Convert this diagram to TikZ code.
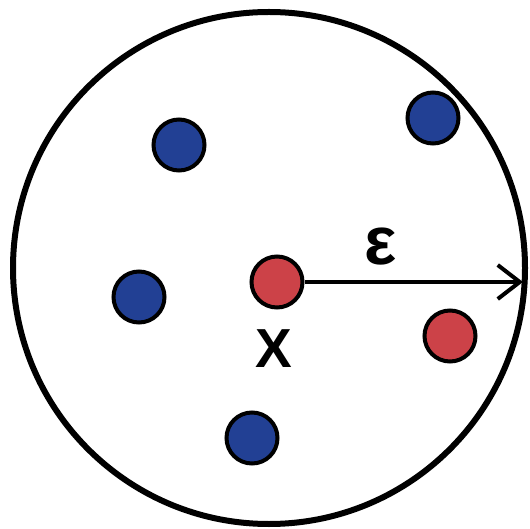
\documentclass[tikz,border=0pt]{standalone}
\usepackage{fontspec}
\setmainfont{Liberation Sans}
\usetikzlibrary{arrows.meta}
\definecolor{dotblue}{RGB}{34,64,148}
\definecolor{dotred}{RGB}{204,66,72}
\tikzset{
  dot/.style={circle, draw=black, line width=4pt, minimum size=51pt, inner sep=0pt},
  bluedot/.style={dot, fill=dotblue},
  reddot/.style={dot, fill=dotred},
  lbl/.style={font=\fontsize{55}{60}\selectfont\bfseries, inner sep=0pt},
  epslbl/.style={font=\fontsize{68}{72}\selectfont\bfseries, inner sep=0pt}
}
\begin{document}
\begin{tikzpicture}[x=1pt,y=1pt]
\useasboundingbox (0,0) rectangle (530,528);
\node[circle, draw=black, line width=6pt, minimum size=512pt, inner sep=0pt] (ball) at (269,260) {};
\node[bluedot] (b1) at (179,383) {};
\node[bluedot] (b2) at (433,410) {};
\node[bluedot] (b3) at (139,231) {};
\node[bluedot] (b4) at (252,90) {};
\node[reddot] (x) at (277,246) {};
\node[reddot] (r2) at (450,192) {};
\coordinate (edge) at (523,246);
\draw[line width=4pt, -{Straight Barb[length=22pt,width=34pt,line width=4pt]}] (x.east) -- (edge);
\node[epslbl] (eps) at (381,281) {ε};
\node[lbl] (xl) at (274,179) {X};
\end{tikzpicture}
\end{document}
